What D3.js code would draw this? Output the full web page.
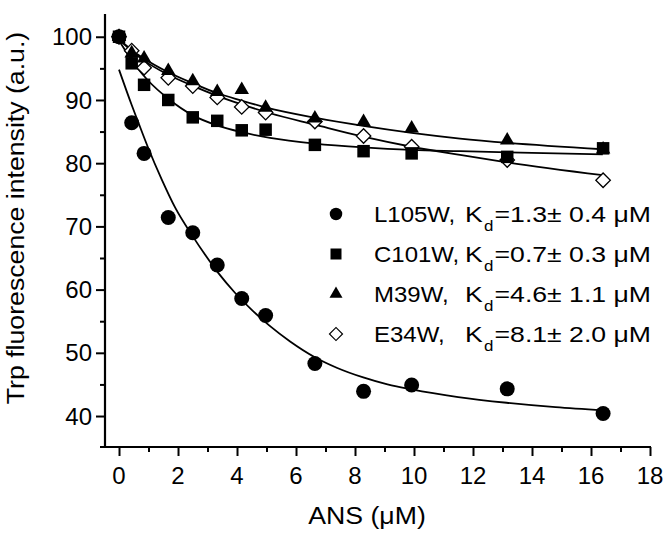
<!DOCTYPE html>
<html><head><meta charset="utf-8">
<script src="https://cdn.jsdelivr.net/npm/d3@7"></script>
<style>
html,body{margin:0;padding:0;background:#fff;}
svg text{font-family:"Liberation Sans",Arial,Helvetica,sans-serif;fill:#000;}
</style></head>
<body><svg id="c" width="668" height="541"></svg>
<script>
// ANS concentration (µM) for each titration point
const ansX = [0, 0.43, 0.85, 1.67, 2.5, 3.33, 4.16, 4.97, 6.64, 8.29, 9.92, 13.16, 16.41];
// Trp fluorescence intensity (a.u.)
const yL105W = [100, 86.4, 81.55, 71.4, 69.0, 63.9, 58.6, 55.9, 48.3, 43.9, 44.9, 44.3, 40.4];
const yC101W = [100, 95.8, 92.4, 90.0, 87.25, 86.7, 85.2, 85.3, 82.9, 81.9, 81.55, 81.0, 82.35];
const yM39W  = [100, 97.4, 96.6, 94.6, 93.0, 91.3, 91.6, 88.8, 87.1, 86.55, 85.5, 83.6, 82.2];
const yE34W  = [100, 97.8, 95.1, 93.5, 92.2, 90.4, 88.9, 88.0, 86.6, 84.3, 82.6, 80.5, 77.3];

// fitted curves
const fitL105W_x = [0, 0.43, 0.65, 0.99, 1.45, 1.9, 2.49, 2.92, 3.37, 3.93, 4.5, 5.1, 5.8, 6.64, 7.4, 8.28, 9.1, 9.92, 11.5, 13.14, 14.8, 16.42];
const fitL105W_y = [94.8, 89.2, 86.5, 82.4, 77.4, 73.0, 68.5, 65.5, 62.6, 59.5, 56.8, 54.3, 51.8, 49.3, 47.6, 46.1, 45.0, 44.2, 43.0, 42.1, 41.4, 40.9];
const fitC101W_x = [0, 0.3, 0.65, 1.0, 1.67, 2.49, 3.37, 4.16, 5.12, 6.64, 8.28, 9.92, 11.56, 13.2, 16.4];
const fitC101W_y = [99.4, 97.2, 94.9, 93.0, 90.2, 87.6, 85.9, 84.9, 84.0, 83.1, 82.5, 82.1, 81.9, 81.7, 81.4];
const fitM39W_x = [0, 0.4, 0.83, 1.62, 2.52, 3.31, 4.16, 5.0, 6.64, 8.28, 9.92, 11.56, 13.2, 16.4];
const fitM39W_y = [99.6, 98.0, 96.6, 94.5, 92.6, 91.1, 89.9, 88.8, 87.2, 85.9, 84.8, 83.9, 83.2, 82.2];
const fitE34W_x = [0, 0.4, 0.83, 1.62, 2.52, 3.31, 4.16, 5.12, 6.64, 8.28, 9.92, 11.56, 13.2, 16.4];
const fitE34W_y = [99.6, 97.9, 96.3, 94.1, 92.2, 90.7, 89.3, 87.9, 86.1, 84.2, 82.6, 81.3, 80.1, 78.1];

const seriesNames = ["L105W,", "C101W,", "M39W,", "E34W,"];
const kdTexts = ["=1.3\u00B1 0.4 \u03BCM", "=0.7\u00B1 0.3 \u03BCM", "=4.6\u00B1 1.1 \u03BCM", "=8.1\u00B1 2.0 \u03BCM"];
const xTicks = [0, 2, 4, 6, 8, 10, 12, 14, 16, 18];
const yTicks = [40, 50, 60, 70, 80, 90, 100];
const xLabel = "ANS (\u03BCM)";
const yLabel = "Trp fluorescence intensity (a.u.)";

const svg = d3.select("#c");
const x = d3.scaleLinear().domain([-0.475, 18]).range([105, 650]);
const y = d3.scaleLinear().domain([35.1, 103.6]).range([447, 14]);
const stretch = 1.16;

// axes
const gx = svg.append("g").attr("transform", "translate(0,447)");
gx.call(d3.axisBottom(x).tickValues(d3.range(0, 19, 1)).tickSize(0).tickFormat(""));
gx.select(".domain").remove();
gx.selectAll(".tick line").attr("y2", d => d % 2 === 0 ? 9 : 5).attr("stroke", "#000").attr("stroke-width", 2);
gx.append("line").attr("x1", 100).attr("x2", 651).attr("stroke", "#000").attr("stroke-width", 2.2);
gx.selectAll(".xl").data(xTicks).join("text").attr("class", "xl")
  .attr("x", d => x(d)).attr("y", 37).attr("text-anchor", "middle").attr("font-size", 24).text(d => d);

const gy = svg.append("g").attr("transform", "translate(105,0)");
gy.call(d3.axisLeft(y).tickValues(d3.range(40, 101, 5)).tickSize(0).tickFormat(""));
gy.select(".domain").remove();
gy.selectAll(".tick line").attr("x2", d => d % 10 === 0 ? -9 : -5).attr("stroke", "#000").attr("stroke-width", 2);
gy.append("line").attr("y1", 14).attr("y2", 448).attr("stroke", "#000").attr("stroke-width", 2.2);
gy.selectAll(".yl").data(yTicks).join("text").attr("class", "yl")
  .attr("x", -13).attr("y", d => y(d)).attr("dy", "0.36em").attr("text-anchor", "end").attr("font-size", 24).text(d => d);

svg.append("text").attr("transform", `translate(367,524) scale(${stretch},1)`).attr("text-anchor", "middle").attr("font-size", 23).text(xLabel);
svg.append("text").attr("transform", `translate(24,218) rotate(-90) scale(${stretch},1)`).attr("text-anchor", "middle").attr("font-size", 23).text(yLabel);

// fits
const line = d3.line().x(d => x(d[0])).y(d => y(d[1])).curve(d3.curveMonotoneX);
const fits = [[fitL105W_x, fitL105W_y], [fitC101W_x, fitC101W_y], [fitM39W_x, fitM39W_y], [fitE34W_x, fitE34W_y]];
fits.forEach(([fx, fy]) => {
  svg.append("path").datum(fx.map((v, i) => [v, fy[i]])).attr("d", line)
    .attr("fill", "none").attr("stroke", "#000").attr("stroke-width", 1.8);
});

// markers
const sym = {
  circle: (s) => d3.symbol().type(d3.symbolCircle).size(Math.PI * s * s / 4)(),
  square: (s) => d3.symbol().type(d3.symbolSquare).size(s * s)(),
  triangle: (s) => d3.symbol().type(d3.symbolTriangle).size(Math.sqrt(3) / 4 * s * s)(),
  diamond: (s) => d3.symbol().type(d3.symbolSquare).size(s * s / 2)()
};
function drawPts(vals, type, size, open) {
  svg.append("g").selectAll("path").data(ansX.map((v, i) => [v, vals[i]])).join("path")
    .attr("d", sym[type](size))
    .attr("transform", d => `translate(${x(d[0])},${y(d[1])})` + (type === "diamond" ? " rotate(45)" : ""))
    .attr("fill", open ? "#fff" : "#000").attr("stroke", "#000").attr("stroke-width", open ? 1.3 : 0);
}
drawPts(yE34W, "diamond", 14.5, true);
drawPts(yM39W, "triangle", 14.5, false);
drawPts(yC101W, "square", 12.5, false);
drawPts(yL105W, "circle", 15, false);

// legend
const legTypes = [["circle", 12.5, false], ["square", 11, false], ["triangle", 13, false], ["diamond", 13, true]];
const lg = svg.append("g");
seriesNames.forEach((name, i) => {
  const by = 222 + i * 40;
  const [t, s, open] = legTypes[i];
  lg.append("path").attr("d", sym[t](s))
    .attr("transform", `translate(336,${by - 8})` + (t === "diamond" ? " rotate(45)" : ""))
    .attr("fill", open ? "#fff" : "#000").attr("stroke", "#000").attr("stroke-width", open ? 1.2 : 0);
  lg.append("text").attr("transform", `translate(374,${by}) scale(1.09,1)`).attr("font-size", 22).text(name);
  const kt = lg.append("text").attr("transform", `translate(465,${by}) scale(1.21,1)`).attr("font-size", 22);
  kt.append("tspan").text("K");
  kt.append("tspan").attr("font-size", 14).attr("dy", 9).attr("dx", 1).text("d");
  kt.append("tspan").attr("dy", -9).attr("dx", 1).text(kdTexts[i]);
});
</script></body></html>
